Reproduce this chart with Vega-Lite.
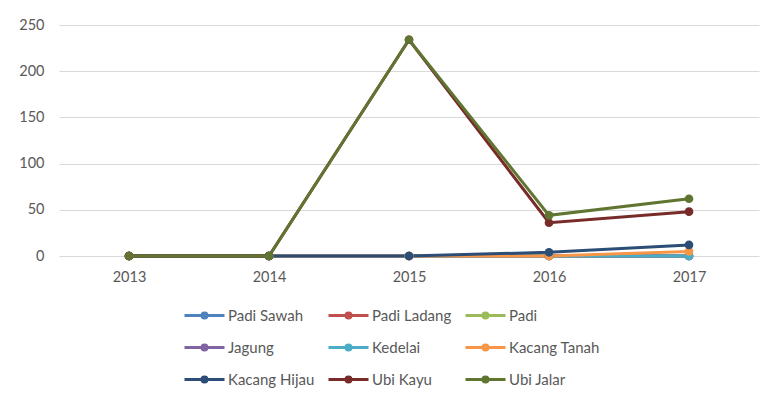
{
  "$schema": "https://vega.github.io/schema/vega-lite/v6.json",
  "width": 700,
  "height": 231,
  "autosize": {"type": "none"},
  "padding": {"left": 59, "top": 25, "right": 17, "bottom": 148},
  "background": "white",
  "config": {
    "view": {"stroke": null},
    "font": "Lato",
    "axis": {"labelFont": "Lato", "labelFontSize": 14.5, "labelColor": "#595959"},
    "legend": {"labelFont": "Lato", "labelFontSize": 15, "labelColor": "#595959"}
  },
  "data": {
    "values": [
      {"tahun": "2013", "komoditas": "Padi Sawah", "nilai": 0},
      {"tahun": "2014", "komoditas": "Padi Sawah", "nilai": 0},
      {"tahun": "2015", "komoditas": "Padi Sawah", "nilai": 0},
      {"tahun": "2016", "komoditas": "Padi Sawah", "nilai": 0},
      {"tahun": "2017", "komoditas": "Padi Sawah", "nilai": 0},
      {"tahun": "2013", "komoditas": "Padi Ladang", "nilai": 0},
      {"tahun": "2014", "komoditas": "Padi Ladang", "nilai": 0},
      {"tahun": "2015", "komoditas": "Padi Ladang", "nilai": 0},
      {"tahun": "2016", "komoditas": "Padi Ladang", "nilai": 0},
      {"tahun": "2017", "komoditas": "Padi Ladang", "nilai": 0},
      {"tahun": "2013", "komoditas": "Padi", "nilai": 0},
      {"tahun": "2014", "komoditas": "Padi", "nilai": 0},
      {"tahun": "2015", "komoditas": "Padi", "nilai": 0},
      {"tahun": "2016", "komoditas": "Padi", "nilai": 0},
      {"tahun": "2017", "komoditas": "Padi", "nilai": 0},
      {"tahun": "2013", "komoditas": "Jagung", "nilai": 0},
      {"tahun": "2014", "komoditas": "Jagung", "nilai": 0},
      {"tahun": "2015", "komoditas": "Jagung", "nilai": 0},
      {"tahun": "2016", "komoditas": "Jagung", "nilai": 0},
      {"tahun": "2017", "komoditas": "Jagung", "nilai": 0},
      {"tahun": "2013", "komoditas": "Kedelai", "nilai": 0},
      {"tahun": "2014", "komoditas": "Kedelai", "nilai": 0},
      {"tahun": "2015", "komoditas": "Kedelai", "nilai": 0},
      {"tahun": "2016", "komoditas": "Kedelai", "nilai": 0},
      {"tahun": "2017", "komoditas": "Kedelai", "nilai": 0},
      {"tahun": "2013", "komoditas": "Kacang Tanah", "nilai": 0},
      {"tahun": "2014", "komoditas": "Kacang Tanah", "nilai": 0},
      {"tahun": "2015", "komoditas": "Kacang Tanah", "nilai": 0},
      {"tahun": "2016", "komoditas": "Kacang Tanah", "nilai": 0},
      {"tahun": "2017", "komoditas": "Kacang Tanah", "nilai": 5},
      {"tahun": "2013", "komoditas": "Kacang Hijau", "nilai": 0},
      {"tahun": "2014", "komoditas": "Kacang Hijau", "nilai": 0},
      {"tahun": "2015", "komoditas": "Kacang Hijau", "nilai": 0},
      {"tahun": "2016", "komoditas": "Kacang Hijau", "nilai": 4},
      {"tahun": "2017", "komoditas": "Kacang Hijau", "nilai": 12},
      {"tahun": "2013", "komoditas": "Ubi Kayu", "nilai": 0},
      {"tahun": "2014", "komoditas": "Ubi Kayu", "nilai": 0},
      {"tahun": "2015", "komoditas": "Ubi Kayu", "nilai": 234},
      {"tahun": "2016", "komoditas": "Ubi Kayu", "nilai": 36},
      {"tahun": "2017", "komoditas": "Ubi Kayu", "nilai": 48},
      {"tahun": "2013", "komoditas": "Ubi Jalar", "nilai": 0},
      {"tahun": "2014", "komoditas": "Ubi Jalar", "nilai": 0},
      {"tahun": "2015", "komoditas": "Ubi Jalar", "nilai": 234},
      {"tahun": "2016", "komoditas": "Ubi Jalar", "nilai": 44},
      {"tahun": "2017", "komoditas": "Ubi Jalar", "nilai": 62}
    ]
  },
  "mark": {"type": "line", "strokeWidth": 3, "point": {"filled": true, "size": 75, "opacity": 1}},
  "encoding": {
    "x": {
      "field": "tahun", "type": "ordinal",
      "scale": {"type": "point", "padding": 0.5},
      "axis": {"title": null, "labelAngle": 0, "domain": false, "ticks": false, "grid": false, "labelPadding": 14}
    },
    "y": {
      "field": "nilai", "type": "quantitative",
      "scale": {"domain": [0, 250], "nice": false},
      "axis": {"title": null, "values": [0, 50, 100, 150, 200, 250], "domain": false, "ticks": false, "gridColor": "#d9d9d9", "gridWidth": 1, "labelPadding": 15}
    },
    "color": {
      "field": "komoditas", "type": "nominal",
      "scale": {
        "domain": ["Padi Sawah", "Padi Ladang", "Padi", "Jagung", "Kedelai", "Kacang Tanah", "Kacang Hijau", "Ubi Kayu", "Ubi Jalar"],
        "range": ["#4F81BD", "#C0504D", "#9BBB59", "#8064A2", "#4BACC6", "#F79646", "#2C4D75", "#772C2A", "#5F7530"]
      },
      "legend": {
        "title": null,
        "orient": "none",
        "direction": "horizontal",
        "legendX": 134,
        "legendY": 279,
        "columns": 3,
        "symbolType": "M-2,0H2M-0.25,0A0.25,0.25 0 1,1 0.25,0A0.25,0.25 0 1,1 -0.25,0",
        "symbolSize": 400,
        "symbolStrokeWidth": 3,
        "labelOffset": 12,
        "columnPadding": 7,
        "rowPadding": 12
      }
    }
  }
}
